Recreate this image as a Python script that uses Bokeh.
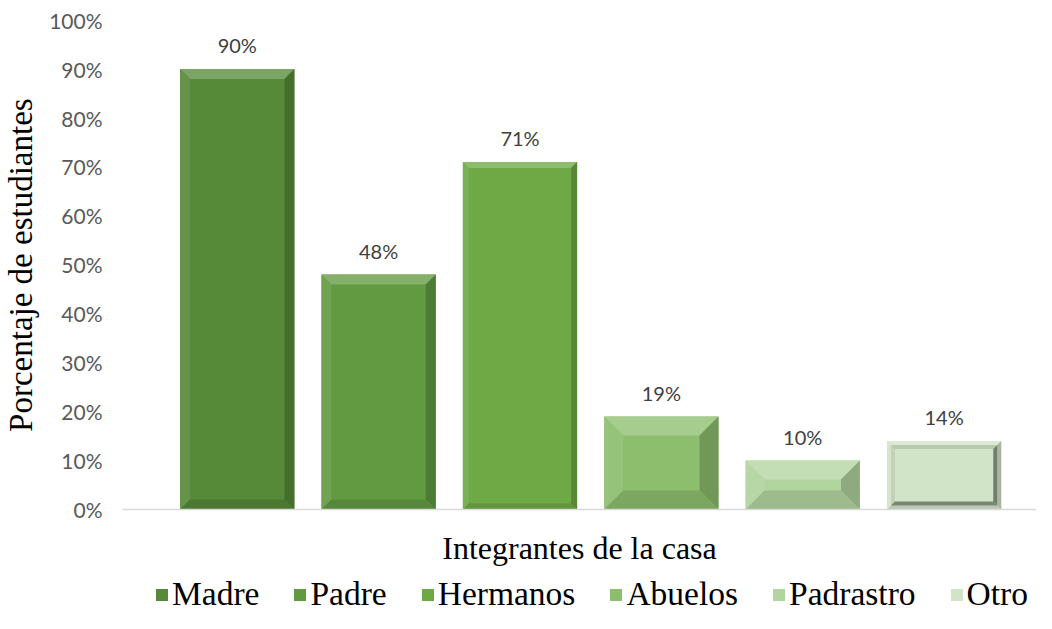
from bokeh.plotting import figure
from bokeh.layouts import column
from bokeh.models import (Range1d, FixedTicker, NumeralTickFormatter, ColumnDataSource,
                          Legend, LegendItem)
from bokeh.core.properties import value
from bokeh.embed import file_html
from bokeh.resources import INLINE

# ---------------- data ----------------
categories = ["Madre", "Padre", "Hermanos", "Abuelos", "Padrastro", "Otro"]
percentages = [0.90, 0.48, 0.71, 0.19, 0.10, 0.14]
y_ticks = [0.0, 0.1, 0.2, 0.3, 0.4, 0.5, 0.6, 0.7, 0.8, 0.9, 1.0]
x_title = "Integrantes de la casa"
y_title = "Porcentaje de  estudiantes"

# ---------------- style ----------------
bar_colors = ["#568A39", "#629A42", "#6EA946", "#8DBE6E", "#B2D49F", "#D2E4C7"]
bevel_px = [10, 10, 6, 19, 19, 4]
bar_width = 0.808
W = 1036
H_main, H_leg = 568, 45
frame_left, frame_right = 116, 1036
frame_top, frame_bottom = 12, 512
px_per_cat = 142.3
px_per_unit = 492.3
first_center = 231.5


def mix(c, t, a):
    c = c.lstrip("#"); t = t.lstrip("#")
    r = [int(c[i:i + 2], 16) for i in (0, 2, 4)]
    s = [int(t[i:i + 2], 16) for i in (0, 2, 4)]
    return "#%02x%02x%02x" % tuple(round(r[k] + (s[k] - r[k]) * a) for k in range(3))


x0r = (frame_left - first_center) / px_per_cat
x1r = (frame_right - first_center) / px_per_cat
y1r = (frame_bottom - frame_top) / px_per_unit

p = figure(width=W, height=H_main, output_backend="svg", toolbar_location=None,
           x_range=Range1d(x0r, x1r), y_range=Range1d(0, y1r),
           min_border_top=frame_top, min_border_right=0, min_border_left=frame_left,
           min_border_bottom=H_main - frame_bottom)
p.outline_line_color = None
p.xgrid.visible = False
p.ygrid.visible = False
p.background_fill_color = "white"
p.border_fill_color = "white"

xs = list(range(len(categories)))
src = ColumnDataSource(dict(x=xs, top=percentages, color=bar_colors, cat=categories,
                            lab=["%d%%" % round(v * 100) for v in percentages]))
bars = p.vbar(x="x", top="top", width=bar_width, fill_color="color", line_color=None, source=src)

# bevel facets computed from each bar's value
px_list, py_list, pc_list = [], [], []
for i, (v, c, b) in enumerate(zip(percentages, bar_colors, bevel_px)):
    dx = b / px_per_cat
    dy = b / px_per_unit
    xa, xb = i - bar_width / 2, i + bar_width / 2
    faces = [
        ([xa, xb, xb - dx, xa + dx], [v, v, v - dy, v - dy], mix(c, "#ffffff", 0.22)),
        ([xa, xa, xa + dx, xa + dx], [0, v, v - dy, dy], mix(c, "#ffffff", 0.08)),
        ([xb, xb, xb - dx, xb - dx], [0, v, v - dy, dy], mix(c, "#000000", 0.2)),
        ([xa, xb, xb - dx, xa + dx], [0, 0, dy, dy], mix(c, "#000000", 0.12)),
    ]
    for fx, fy, fc in faces:
        px_list.append(fx); py_list.append(fy); pc_list.append(fc)
    if i == len(categories) - 1:
        d1 = b / px_per_cat; e1 = b / px_per_unit
        d2 = (b + 4) / px_per_cat; e2 = (b + 4) / px_per_unit
        ia, ib = xa + d1, xb - d1
        dd, ee = d2 - d1, e2 - e1
        inner = [
            ([ia, ib, ib - dd, ia + dd], [v - e1, v - e1, v - e2, v - e2], mix(c, "#000000", 0.12)),
            ([ia, ia, ia + dd, ia + dd], [e1, v - e1, v - e2, e2], mix(c, "#000000", 0.08)),
            ([ib, ib, ib - dd, ib - dd], [e1, v - e1, v - e2, e2], mix(c, "#000000", 0.45)),
            ([ia, ib, ib - dd, ia + dd], [e1, e1, e2, e2], mix(c, "#000000", 0.42)),
        ]
        for fx, fy, fc in inner:
            px_list.append(fx); py_list.append(fy); pc_list.append(fc)

p.patches(xs=px_list, ys=py_list, fill_color=pc_list, line_color=None)

# data labels
p.text(x="x", y="top", text="lab", source=src, text_align="center", text_baseline="middle",
       y_offset=-24, text_font=value("Lato"), text_font_size="20px", text_color="#404040")

# axes
xa_ = p.xaxis[0]
xa_.ticker = FixedTicker(ticks=[])
xa_.axis_line_color = "#D9D9D9"
xa_.axis_line_width = 1.5
xa_.major_tick_line_color = None
xa_.minor_tick_line_color = None
xa_.major_label_text_font_size = "0px"
xa_.axis_label = x_title
xa_.axis_label_text_font = "Liberation Serif"
xa_.axis_label_text_font_style = "normal"
xa_.axis_label_text_font_size = "32px"
xa_.axis_label_text_color = "black"
xa_.axis_label_standoff = 20

ya = p.yaxis[0]
ya.ticker = FixedTicker(ticks=y_ticks)
ya.formatter = NumeralTickFormatter(format="0%")
ya.axis_line_color = None
ya.major_tick_line_color = None
ya.minor_tick_line_color = None
ya.major_label_standoff = 14
ya.major_label_text_font = "Lato"
ya.major_label_text_font_size = "21px"
ya.major_label_text_color = "#595959"
ya.axis_label = y_title
ya.axis_label_text_font = "Liberation Serif"
ya.axis_label_text_font_style = "normal"
ya.axis_label_text_font_size = "33px"
ya.axis_label_text_color = "black"
ya.axis_label_standoff = 7

# ---------------- legend strip ----------------
lf = figure(width=W, height=H_leg, output_backend="svg", toolbar_location=None,
            x_range=Range1d(0, 1), y_range=Range1d(5, 6),
            x_axis_type=None, y_axis_type=None,
            min_border=0, min_border_left=0, min_border_right=0,
            min_border_top=0, min_border_bottom=0)
lf.outline_line_color = None
lf.background_fill_color = "white"
lf.border_fill_color = "white"
lbars = lf.vbar(x="x", top="top", width=bar_width, fill_color="color", line_color=None, source=src)

items = [LegendItem(label=c, renderers=[lbars], index=i) for i, c in enumerate(categories)]
legend = Legend(items=items, orientation="horizontal", location=(32, 0),
                label_text_font="Liberation Serif", label_text_font_size="33.5px",
                label_text_color="black", glyph_width=15, glyph_height=15,
                label_standoff=3, spacing=33, padding=0, margin=0,
                border_line_color=None, background_fill_alpha=0)
lf.add_layout(legend)

layout = column(p, lf, spacing=0)
open("out.html", "w").write(file_html(layout, INLINE))
